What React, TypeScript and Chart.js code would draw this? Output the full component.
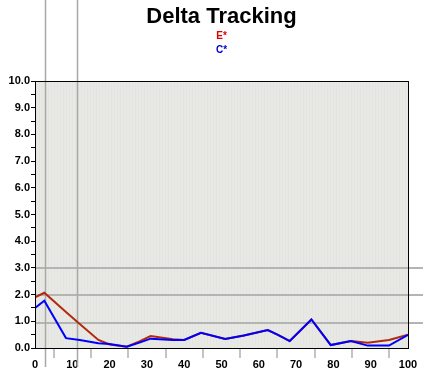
import React, { useEffect, useRef } from "react";
import { Chart, registerables } from "chart.js";

Chart.register(...registerables);

const xValues = [0, 2.5, 8.3, 12, 17, 20, 24.6, 28, 31, 37, 40, 44.5, 51, 56, 62.4, 65, 68.3, 74.1, 79.3, 84.7, 89.2, 94.9, 100];
const eValues = [1.9, 2.07, 1.35, 0.9, 0.3, 0.13, 0.05, 0.25, 0.45, 0.33, 0.3, 0.57, 0.34, 0.47, 0.67, 0.5, 0.26, 1.07, 0.11, 0.26, 0.2, 0.3, 0.5];
const cValues = [1.5, 1.77, 0.37, 0.3, 0.18, 0.15, 0.05, 0.2, 0.35, 0.3, 0.3, 0.57, 0.34, 0.47, 0.67, 0.5, 0.26, 1.07, 0.11, 0.26, 0.09, 0.09, 0.49];
const markerX = [2.7, 11.3];
const markerY = [3, 2, 0.95];
const seriesNames = ["E*", "C*"];
const titleText = "Delta Tracking";

const FONT = "'Liberation Sans', Arial, sans-serif";

export default function App() {
  const ref = useRef<HTMLCanvasElement | null>(null);
  useEffect(() => {
    document.body.style.margin = "0";
    const canvas = ref.current!;
    const overlay = {
      id: "overlay",
      beforeDraw(chart: any) {
        const { ctx, chartArea } = chart;
        ctx.save();
        ctx.fillStyle = "#ffffff";
        ctx.fillRect(0, 0, chart.width, chart.height);
        ctx.fillStyle = "#e8e8e4";
        ctx.fillRect(chartArea.left, chartArea.top, chartArea.right - chartArea.left, chartArea.bottom - chartArea.top);
        ctx.strokeStyle = "rgba(0,0,0,0.015)";
        ctx.lineWidth = 1;
        for (let x = chartArea.left + 1.5; x < chartArea.right; x += 3) {
          ctx.beginPath();
          ctx.moveTo(x, chartArea.top);
          ctx.lineTo(x, chartArea.bottom);
          ctx.stroke();
        }
        ctx.restore();
      },
      beforeDatasetsDraw(chart: any) {
        const { ctx, chartArea, scales } = chart;
        ctx.save();
        ctx.strokeStyle = "#b4b4b4";
        ctx.lineWidth = 2;
        markerY.forEach((v) => {
          const y = Math.round(scales.y.getPixelForValue(v));
          ctx.beginPath();
          ctx.moveTo(chartArea.left, y);
          ctx.lineTo(chart.width, y);
          ctx.stroke();
        });
        ctx.lineWidth = 1.5;
        ctx.strokeStyle = "#a8a8a8";
        markerX.forEach((v) => {
          const x = Math.round(scales.x.getPixelForValue(v)) + 0.5;
          ctx.beginPath();
          ctx.moveTo(x, 0);
          ctx.lineTo(x, chartArea.bottom + 19);
          ctx.stroke();
        });
        ctx.restore();
      },
      afterDraw(chart: any) {
        const { ctx, chartArea } = chart;
        ctx.save();
        ctx.strokeStyle = "#000";
        ctx.lineWidth = 1;
        ctx.strokeRect(chartArea.left + 0.5, chartArea.top + 0.5, chartArea.right - chartArea.left, chartArea.bottom - chartArea.top);
        const cx = (chartArea.left + chartArea.right) / 2;
        ctx.textAlign = "center";
        ctx.textBaseline = "alphabetic";
        ctx.fillStyle = "#000";
        ctx.font = `bold 22px ${FONT}`;
        ctx.fillText(titleText, cx, 23);
        ctx.font = `bold 10px ${FONT}`;
        ctx.fillStyle = "#dd0000";
        ctx.fillText(seriesNames[0], cx, 39);
        ctx.fillStyle = "#0000cc";
        ctx.fillText(seriesNames[1], cx, 53);
        ctx.restore();
      },
    };
    const chart = new Chart(canvas, {
      type: "line",
      data: {
        datasets: [
          {
            label: seriesNames[0],
            data: xValues.map((x, i) => ({ x, y: eValues[i] })),
            borderColor: "#b02a10",
            borderWidth: 2,
            pointRadius: 0,
            tension: 0,
            order: 2,
          },
          {
            label: seriesNames[1],
            data: xValues.map((x, i) => ({ x, y: cValues[i] })),
            borderColor: "#0000ff",
            borderWidth: 2,
            pointRadius: 0,
            tension: 0,
            order: 1,
          },
        ],
      },
      options: {
        animation: false,
        responsive: false,
        maintainAspectRatio: false,
        layout: { padding: { top: 81, right: 15, left: 0, bottom: 0 } },
        plugins: { legend: { display: false }, title: { display: false }, tooltip: { enabled: false } },
        scales: {
          x: {
            type: "linear",
            min: 0,
            max: 100,
            afterBuildTicks(scale: any) {
              const t = [];
              for (let v = 0; v <= 100; v += 5) t.push({ value: v });
              scale.ticks = t;
            },
            afterFit(scale: any) {
              scale.height = 31;
            },
            border: { display: true, color: "#000", width: 1 },
            grid: {
              drawOnChartArea: false,
              drawTicks: true,
              tickLength: 10,
              lineWidth: 2,
              color: (c: any) => (c.tick && c.tick.value % 10 !== 0 ? "#c4c4c4" : "rgba(0,0,0,0)"),
            },
            ticks: {
              autoSkip: false,
              maxRotation: 0,
              padding: 0,
              color: "#000",
              font: { family: FONT, weight: "bold", size: 11 },
              callback: (v: any) => (v % 10 === 0 ? String(v) : ""),
            },
          },
          y: {
            type: "linear",
            min: 0,
            max: 10,
            afterBuildTicks(scale: any) {
              const t = [];
              for (let v = 0; v <= 10; v += 0.5) t.push({ value: v });
              scale.ticks = t;
            },
            afterFit(scale: any) {
              scale.width = 35;
            },
            border: { display: true, color: "#000", width: 1 },
            grid: {
              drawOnChartArea: false,
              drawTicks: true,
              tickLength: 4,
              color: "#000",
            },
            ticks: {
              autoSkip: false,
              padding: 1,
              color: "#000",
              font: { family: FONT, weight: "bold", size: 11 },
              callback: (v: any) => (Number.isInteger(v) ? Number(v).toFixed(1) : ""),
            },
          },
        },
      },
      plugins: [overlay],
    } as any);
    return () => chart.destroy();
  }, []);
  return (
    <div style={{ position: "absolute", left: 0, top: 0, width: 423, height: 379 }}>
      <canvas ref={ref} width={423} height={379} style={{ display: "block", width: 423, height: 379 }} />
    </div>
  );
}
